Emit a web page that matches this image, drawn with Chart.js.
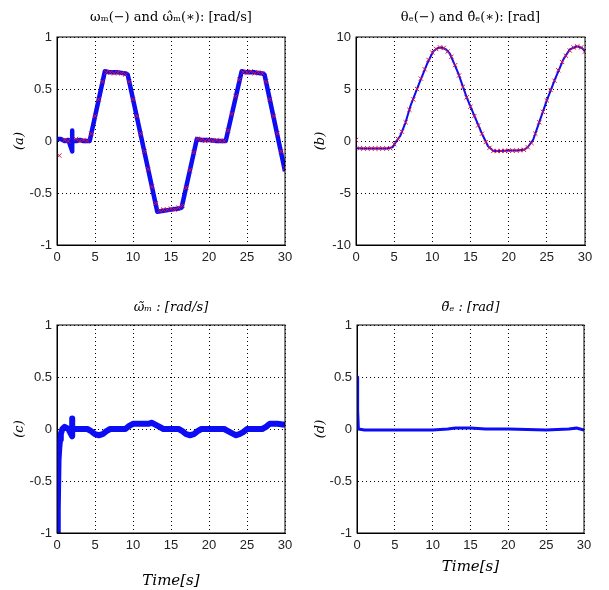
<!DOCTYPE html>
<html>
<head>
<meta charset="utf-8">
<script src="https://cdn.jsdelivr.net/npm/chart.js@4/dist/chart.umd.min.js"></script>
<style>
  body { margin: 0; background: #fff; }
  #wrap { position: relative; width: 609px; height: 590px; }
  canvas { position: absolute; }
</style>
</head>
<body>
<div id="wrap">
  <canvas id="chartA" width="300" height="290" style="left:0;top:0"></canvas>
  <canvas id="chartB" width="309" height="290" style="left:300px;top:0"></canvas>
  <canvas id="chartC" width="300" height="300" style="left:0;top:290px"></canvas>
  <canvas id="chartD" width="309" height="300" style="left:300px;top:290px"></canvas>
</div>
<script>
// x ticks shared by all panels
const timeTicks = [0, 5, 10, 15, 20, 25, 30];
const unitTicks = [-1, -0.5, 0, 0.5, 1];
const angleTicks = [-10, -5, 0, 5, 10];

// (a) measured speed (line) and estimated speed (x markers)
const omegaT = [0, 0.5, 1, 1.5, 2, 2, 2, 2.5, 3, 3.5, 4, 4.3, 6.3, 7, 8, 9, 9.3, 13.2, 14, 15, 16, 16.4, 18.4, 19, 20, 21, 22.2, 24.3, 25, 26, 27, 27.3, 30];
const omegaVals = [0.02, 0.02, 0.0, 0.01, -0.1, 0.1, 0.0, 0.0, 0.01, 0.0, 0.0, 0.0, 0.67, 0.66, 0.66, 0.65, 0.64, -0.68, -0.67, -0.66, -0.65, -0.64, 0.02, 0.01, 0.01, 0.0, 0.0, 0.67, 0.66, 0.66, 0.65, 0.64, -0.29];
const omegaHatT = [0.3, 1, 1.5, 2.5, 3, 3.5, 4, 4.5, 5, 5.5, 6, 6.5, 7, 7.5, 8, 8.5, 9, 9.5, 10, 10.5, 11, 11.5, 12, 12.5, 13, 13.5, 14, 14.5, 15, 15.5, 16, 16.5, 17, 17.5, 18, 18.5, 19, 19.5, 20, 20.5, 21, 21.5, 22, 22.5, 23, 23.5, 24, 24.5, 25, 25.5, 26, 26.5, 27, 27.5, 28, 28.5, 29, 29.5, 30];
const omegaHatVals = [-0.14, 0.01, 0.0, 0.02, 0.0, 0.01, 0.0, 0.07, 0.24, 0.40, 0.57, 0.66, 0.66, 0.65, 0.66, 0.65, 0.64, 0.57, 0.40, 0.24, 0.07, -0.10, -0.27, -0.44, -0.60, -0.67, -0.66, -0.66, -0.65, -0.66, -0.64, -0.62, -0.45, -0.28, -0.11, 0.02, 0.01, 0.0, 0.01, 0.0, 0.01, 0.0, 0.0, 0.10, 0.26, 0.43, 0.59, 0.66, 0.66, 0.67, 0.65, 0.66, 0.65, 0.57, 0.40, 0.24, 0.07, -0.10, -0.26];

// (b) position (line) and estimated position (x markers)
const thetaT = [0, 1, 2, 3, 4, 4.8, 5.3, 5.8, 6.5, 7.1, 8.2, 9.3, 10.1, 10.7, 11.2, 11.8, 12.3, 13.4, 14.5, 15.4, 16.5, 17.3, 18, 19, 20, 21, 22, 22.5, 23.2, 24.1, 25, 26.1, 27.2, 28, 28.9, 29.6, 30];
const thetaVals = [-0.7, -0.72, -0.72, -0.72, -0.72, -0.6, 0.0, 0.5, 1.8, 3.3, 5.4, 7.4, 8.6, 8.95, 9.0, 8.8, 8.4, 6.5, 4.2, 2.6, 0.7, -0.5, -0.95, -0.95, -0.92, -0.92, -0.85, -0.6, 0.1, 2.0, 3.9, 6.0, 7.9, 8.8, 9.1, 8.95, 8.6];
const thetaHatT = [0, 0.5, 1, 1.5, 2, 2.5, 3, 3.5, 4, 4.5, 5, 5.5, 6, 6.5, 7, 7.5, 8, 8.5, 9, 9.5, 10, 10.5, 11, 11.5, 12, 12.5, 13, 13.5, 14, 14.5, 15, 15.5, 16, 16.5, 17, 17.5, 18, 18.5, 19, 19.5, 20, 20.5, 21, 21.5, 22, 22.5, 23, 23.5, 24, 24.5, 25, 25.5, 26, 26.5, 27, 27.5, 28, 28.5, 29, 29.5, 30];
const thetaHatVals = [0.1, -0.7, -0.72, -0.72, -0.72, -0.72, -0.72, -0.72, -0.72, -0.7, -0.3, 0.2, 0.9, 1.8, 3.0, 4.0, 5.0, 6.0, 6.9, 7.8, 8.5, 8.85, 9.0, 8.95, 8.6, 8.1, 7.3, 6.3, 5.2, 4.2, 3.3, 2.4, 1.5, 0.7, -0.1, -0.65, -0.95, -0.97, -0.95, -0.95, -0.93, -0.93, -0.92, -0.9, -0.85, -0.6, -0.2, 0.7, 1.8, 2.8, 3.9, 4.9, 5.8, 6.8, 7.6, 8.2, 8.7, 9.0, 9.1, 9.0, 8.6];

// (c) speed estimation error
const omegaErrT = [0, 0.1, 0.2, 0.3, 0.4, 0.5, 0.7, 1, 1.5, 2, 2, 2, 2.5, 3, 4, 4.5, 5, 5.5, 6, 6.5, 7, 8, 9, 9.5, 10, 11, 12, 12.5, 13, 13.5, 14, 15, 16, 16.5, 17, 17.5, 18, 18.5, 19, 20, 21, 22, 22.5, 23, 23.5, 24, 24.5, 25, 26, 27, 27.5, 28, 29, 30];
const omegaErrVals = [-1, -0.78, -0.3, -0.18, -0.1, -0.05, 0.0, 0.02, 0.0, -0.07, 0.1, 0.0, 0.0, 0.0, 0.0, -0.02, -0.05, -0.06, -0.05, -0.02, 0.0, 0.0, 0.0, 0.03, 0.05, 0.05, 0.05, 0.06, 0.04, 0.02, 0.0, 0.0, 0.0, -0.02, -0.05, -0.06, -0.05, -0.02, 0.0, 0.0, 0.0, 0.0, -0.02, -0.04, -0.06, -0.05, -0.03, 0.0, 0.0, 0.0, 0.02, 0.05, 0.05, 0.04];

// (d) position estimation error
const thetaErrT = [0, 0.05, 0.12, 0.18, 1, 3, 5, 8, 10, 12, 13, 15, 17, 20, 25, 28, 29, 30];
const thetaErrVals = [0.5, 0.18, 0.18, 0.0, -0.01, -0.01, -0.01, -0.01, -0.01, 0.0, 0.01, 0.01, 0.0, 0.0, -0.01, 0.0, 0.01, -0.01];

const BLUE = '#0c0cf5';
const RED = '#e0103c';
const serif = "'DejaVu Serif', 'Liberation Serif', serif";
const sans = "'Liberation Sans', Arial, sans-serif";

const toPoints = (xs, ys) => xs.map((x, i) => ({ x, y: ys[i] }));

// solid box around the plot area, like matlab's axes
const frame = {
  id: 'frame',
  afterDraw(chart) {
    const { ctx, chartArea: a } = chart;
    ctx.save();
    ctx.strokeStyle = '#000';
    ctx.lineWidth = 1;
    ctx.strokeRect(a.left, a.top, a.right - a.left, a.bottom - a.top);
    ctx.restore();
  }
};

const makePanel = (id, p) => {
  const yTicks = p.yTicks;
  return new Chart(document.getElementById(id), {
    type: 'line',
    data: { datasets: p.datasets },
    options: {
      responsive: false,
      animation: false,
      layout: { padding: { left: 0, right: p.padRight, top: 0, bottom: 0 } },
      plugins: {
        legend: { display: false },
        tooltip: { enabled: false }
      },
      scales: {
        // top axis only carries the panel title so it centres over the plot
        top: {
          type: 'linear',
          position: 'top',
          min: 0, max: 30,
          afterFit: s => { s.height = p.topHeight; },
          grid: { display: false, drawTicks: false },
          border: { display: false },
          ticks: { display: false },
          title: {
            display: true,
            text: p.title,
            color: '#000',
            font: { family: serif, size: 13, style: p.titleItalic ? 'italic' : 'normal', weight: 'normal' },
            padding: { top: p.titleTop, bottom: 0 }
          }
        },
        x: {
          type: 'linear',
          position: 'bottom',
          min: 0, max: 30,
          afterBuildTicks: s => { s.ticks = timeTicks.map(v => ({ value: v })); },
          afterFit: s => { s.height = p.xHeight; },
          grid: { color: '#000', lineWidth: 1, drawTicks: false },
          border: { display: true, color: '#000', dash: [1, 3] },
          ticks: { color: '#222', padding: 5, font: { family: sans, size: 13 }, maxRotation: 0, callback: v => String(v) },
          title: {
            display: !!p.xTitle,
            text: p.xTitle || '',
            color: '#000',
            font: { family: serif, size: 15, style: 'italic' },
            padding: { top: 0, bottom: p.xTitleBottom || 0 }
          }
        },
        y: {
          type: 'linear',
          min: yTicks[0], max: yTicks[yTicks.length - 1],
          afterBuildTicks: s => { s.ticks = yTicks.map(v => ({ value: v })); },
          afterFit: s => { s.width = p.yWidth; },
          grid: { color: '#000', lineWidth: 1, drawTicks: false },
          border: { display: true, color: '#000', dash: [1, 3] },
          ticks: { color: '#222', padding: 5, font: { family: sans, size: 13 }, callback: v => String(v) },
          title: {
            display: true,
            text: p.yTitle,
            color: '#000',
            font: { family: serif, size: 13, style: 'italic' },
            padding: { top: p.yTitlePad, bottom: 0 }
          }
        }
      }
    },
    plugins: [frame]
  });
};

const lineSet = (data, width) => ({
  data, borderColor: BLUE, backgroundColor: BLUE, borderWidth: width,
  borderJoinStyle: 'round', borderCapStyle: 'butt',
  pointRadius: 0, tension: 0, fill: false, xAxisID: 'x', yAxisID: 'y'
});
const markerSet = data => ({
  data, showLine: false, pointStyle: 'crossRot', pointRadius: 3,
  borderColor: RED, backgroundColor: RED, pointBorderWidth: 1, xAxisID: 'x', yAxisID: 'y'
});

makePanel('chartA', {
  title: 'ωₘ(−) and ω̂ₘ(∗): [rad/s]', titleTop: 10, topHeight: 37,
  yTitle: '(a)', yTitlePad: 12, yTicks: unitTicks,
  yWidth: 57, padRight: 15, xHeight: 45,
  datasets: [markerSet(toPoints(omegaHatT, omegaHatVals)), lineSet(toPoints(omegaT, omegaVals), 4.5)]
});

makePanel('chartB', {
  title: 'θₑ(−) and θ̂ₑ(∗): [rad]', titleTop: 10, topHeight: 37,
  yTitle: '(b)', yTitlePad: 13, yTicks: angleTicks,
  yWidth: 56, padRight: 24, xHeight: 45,
  datasets: [markerSet(toPoints(thetaHatT, thetaHatVals)), lineSet(toPoints(thetaT, thetaVals), 2)]
});

makePanel('chartC', {
  title: 'ω̃ₘ : [rad/s]', titleItalic: true, titleTop: 10, topHeight: 35,
  yTitle: '(c)', yTitlePad: 12, yTicks: unitTicks,
  yWidth: 57, padRight: 15, xHeight: 57,
  xTitle: 'Time[s]', xTitleBottom: 0,
  datasets: [lineSet(toPoints(omegaErrT, omegaErrVals), 6)]
});

makePanel('chartD', {
  title: 'θ̃ₑ : [rad]', titleItalic: true, titleTop: 10, topHeight: 35,
  yTitle: '(d)', yTitlePad: 13, yTicks: unitTicks,
  yWidth: 57, padRight: 25, xHeight: 57,
  xTitle: 'Time[s]', xTitleBottom: 14,
  datasets: [lineSet(toPoints(thetaErrT, thetaErrVals), 3)]
});
</script>
</body>
</html>
